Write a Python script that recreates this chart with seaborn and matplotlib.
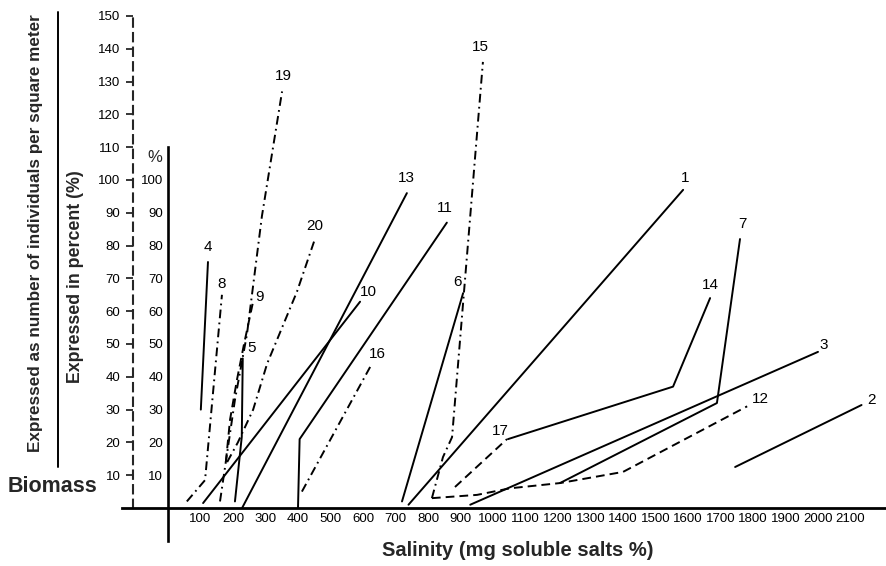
import matplotlib
matplotlib.use("Agg")
import matplotlib.pyplot as plt
import seaborn as sns
from matplotlib.lines import Line2D

# ---------------- data ----------------
x_ticks = [100, 200, 300, 400, 500, 600, 700, 800, 900, 1000, 1100, 1200, 1300,
           1400, 1500, 1600, 1700, 1800, 1900, 2000, 2100, 2200]
x_tick_labels = ["100", "200", "300", "400", "500", "600", "700", "800", "900", "1000",
                 "1100", "1200", "1300", "1400", "1500", "1600", "1700", "1800",
                 "1900", "2000", "2100", ""]
pct_ticks = [10, 20, 30, 40, 50, 60, 70, 80, 90, 100]
count_ticks = [10, 20, 30, 40, 50, 60, 70, 80, 90, 100, 110, 120, 130, 140, 150]

line1_x = [740, 1585];            line1_y = [1, 97]
line2_x = [1745, 2134];           line2_y = [12.5, 31.4]
line3_x = [930, 2000];            line3_y = [1, 47.6]
line4_x = [101, 123];             line4_y = [30, 75]
line5_x = [206, 227, 230];        line5_y = [2, 21.7, 45.6]
line6_x = [720, 908];             line6_y = [2, 65.5]
line7_x = [1206, 1689, 1760];     line7_y = [7.6, 32, 82]
line8_x = [58, 114, 166];         line8_y = [2, 8.5, 65]
line9_x = [178, 191, 212, 234, 262];  line9_y = [14, 27, 39, 50, 63]
line10_x = [108, 591];            line10_y = [1.5, 62.9]
line11_x = [400, 405, 858];       line11_y = [0, 21, 87]
line12_x = [812, 951, 1052, 1206, 1400, 1782]
line12_y = [3, 4, 6, 7.6, 11, 31]
line13_x = [228, 735];            line13_y = [0, 96]
line14_x = [1046, 1554, 1668];    line14_y = [21, 37, 64]
line15_x = [812, 846, 874, 969];  line15_y = [3, 15.5, 21.6, 136]
line16_x = [412, 622];            line16_y = [5, 43]
line17_x = [883, 1043];           line17_y = [6.4, 21]
line19_x = [160, 206, 243, 289, 351]; line19_y = [2, 33, 53, 89, 127]
line20_x = [182, 215, 262, 305, 397, 452]; line20_y = [14, 20, 30, 44, 66, 82]

series = {
    "1": (line1_x, line1_y), "2": (line2_x, line2_y), "3": (line3_x, line3_y),
    "4": (line4_x, line4_y), "5": (line5_x, line5_y), "6": (line6_x, line6_y),
    "7": (line7_x, line7_y), "8": (line8_x, line8_y), "9": (line9_x, line9_y),
    "10": (line10_x, line10_y), "11": (line11_x, line11_y), "12": (line12_x, line12_y),
    "13": (line13_x, line13_y), "14": (line14_x, line14_y), "15": (line15_x, line15_y),
    "16": (line16_x, line16_y), "17": (line17_x, line17_y), "19": (line19_x, line19_y),
    "20": (line20_x, line20_y),
}

# ---------------- styles ----------------
SOLID = "-"
DASH = (0, (4.5, 2.6))
DASHDOT = (0, (4.5, 2.2, 0.9, 2.2))
line_style = {
    "1": SOLID, "2": SOLID, "3": SOLID, "4": SOLID, "5": SOLID, "6": SOLID,
    "7": SOLID, "8": DASHDOT, "9": DASH, "10": SOLID, "11": SOLID, "12": DASH,
    "13": SOLID, "14": SOLID, "15": DASHDOT, "16": DASHDOT, "17": DASH,
    "19": DASHDOT, "20": DASHDOT,
}
# label offset from the last point of each line, in pixels (x right, y down)
label_offset = {
    "1": (2, -12), "2": (10, -5), "3": (6, -7), "4": (0, -15), "5": (9, -10),
    "6": (-6, -11), "7": (2, -15), "8": (0, -11), "9": (6, -4), "10": (8, -10),
    "11": (-2, -15), "12": (13, -7), "13": (0, -15), "14": (0, -13),
    "15": (-3, -15), "16": (7, -13), "17": (-7, -8), "19": (1, -15), "20": (0, -13),
}

sns.set_style("white")
plt.rcParams["font.family"] = ["Liberation Sans", "DejaVu Sans"]

W, H = 887, 566
fig = plt.figure(figsize=(W / 100, H / 100), dpi=100)
ax = fig.add_axes([0, 0, 1, 1])
ax.set_facecolor("white")

PX_PER_X = 0.325   # pixels per salinity unit
PX_PER_Y = 3.28    # pixels per percent
X0_PX, Y0_PX = 168, 508
ax.set_xlim(-X0_PX / PX_PER_X, (W - X0_PX) / PX_PER_X)
ax.set_ylim(-(H - Y0_PX) / PX_PER_Y, Y0_PX / PX_PER_Y)

PT = 0.72  # points per pixel at 100 dpi

for key, (xs, ys) in series.items():
    sns.lineplot(x=xs, y=ys, sort=False, estimator=None, color="black",
                 linewidth=1.4, linestyle=line_style[key], ax=ax)
    dx, dy = label_offset[key]
    ax.annotate(key, xy=(xs[-1], ys[-1]), xytext=(dx * PT, -dy * PT),
                textcoords="offset points", ha="center", va="center",
                fontsize=11, color="black")

# main axes spines
for s in ("top", "right"):
    ax.spines[s].set_visible(False)
ax.spines["left"].set_position(("data", 0))
ax.spines["bottom"].set_position(("data", 0))
ax.spines["left"].set_bounds(-10, 110)
ax.spines["bottom"].set_bounds(-141, 2212)
ax.spines["left"].set_linewidth(1.9)
ax.spines["bottom"].set_linewidth(2.0)
ax.spines["left"].set_color("black")
ax.spines["bottom"].set_color("black")

ax.set_xticks(x_ticks)
ax.set_xticklabels(x_tick_labels)
ax.set_yticks(pct_ticks)
ax.set_yticklabels([str(v) for v in pct_ticks])
ax.tick_params(axis="x", direction="inout", length=5, width=1.2, pad=1,
               labelsize=9.5, colors="black")
ax.tick_params(axis="y", direction="out", length=3, width=1.2, pad=0.5,
               labelsize=9.5, colors="black")
ax.set_xlabel("")
ax.set_ylabel("")

# dashed absolute-number axis
sec = ax.secondary_yaxis(133 / W, functions=(lambda v: v, lambda v: v))
sec.spines["left"].set_linestyle((0, (4, 3)))
sec.spines["left"].set_linewidth(1.5)
sec.spines["left"].set_bounds(0, 150)
sec.set_yticks(count_ticks)
sec.set_yticklabels([str(v) for v in count_ticks])
sec.tick_params(axis="y", direction="out", length=5, width=1.1, pad=4,
                labelsize=9.5, colors="black")


def fx(px):
    return px / W


def fy(py):
    return 1 - py / H


fig.text(fx(155), fy(158), "%", ha="center", va="center", fontsize=12)
fig.text(fx(36), fy(452), "Expressed as number of individuals per square meter",
         rotation=90, ha="center", va="bottom", fontsize=12.3, fontweight="bold")
fig.text(fx(76), fy(383), "Expressed in percent (%)",
         rotation=90, ha="center", va="bottom", fontsize=12.8, fontweight="bold")
fig.add_artist(Line2D([fx(58), fx(58)], [fy(12), fy(467)], color="black",
                      linewidth=1.4, transform=fig.transFigure))
fig.text(fx(8), fy(486), "Biomass", ha="left", va="center", fontsize=15.5,
         fontweight="bold")
fig.text(fx(518), fy(551), "Salinity (mg soluble salts %)", ha="center",
         va="center", fontsize=14.5, fontweight="bold")

fig.savefig("out.png", dpi=100, facecolor="white")
